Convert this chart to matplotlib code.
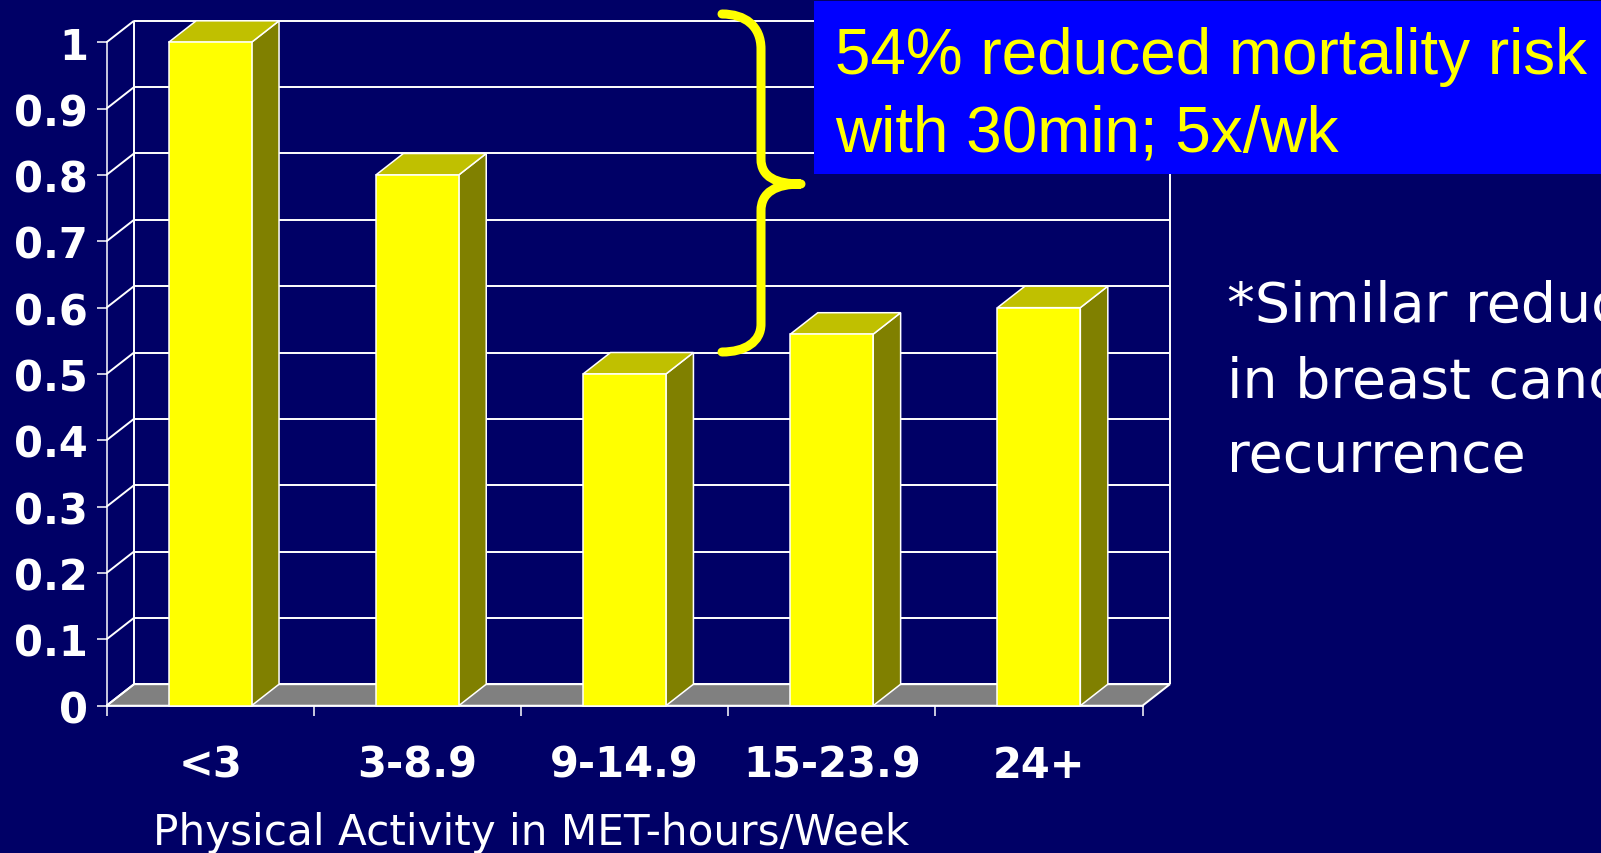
import matplotlib

matplotlib.use("Agg")

import matplotlib.pyplot as plt
import matplotlib.transforms as mtransforms
import numpy as np
from matplotlib.patches import PathPatch, Polygon, Rectangle
from matplotlib.path import Path


FIG_W, FIG_H = 1601, 854

NAVY = "#000066"
YELLOW = "#FFFF00"
YELLOW_TOP = "#C0C000"
YELLOW_SIDE = "#808000"
FLOOR = "#808080"
BOX_BLUE = "#0000FF"

categories = ["<3", "3-8.9", "9-14.9", "15-23.9", "24+"]
relative_risk = [1.0, 0.80, 0.50, 0.56, 0.60]
y_ticks = [0, 0.1, 0.2, 0.3, 0.4, 0.5, 0.6, 0.7, 0.8, 0.9, 1.0]
y_tick_labels = ["0", "0.1", "0.2", "0.3", "0.4", "0.5", "0.6", "0.7", "0.8", "0.9", "1"]

x_label = "Physical Activity in MET-hours/Week"
callout_lines = ["54% reduced mortality risk", "with 30min; 5x/wk"]
side_note_lines = ["*Similar reduction", "in breast cancer", "recurrence"]

BAR_WIDTH = 0.4
# depth of the fake 3d box, in data units (x: categories, y: value)
DEPTH_X = 0.1327
DEPTH_Y = 0.0324


def px(x, y):
    # pixel position (from top left) -> figure fraction
    return x / FIG_W, 1 - y / FIG_H


def draw_walls(ax, n):
    line_kw = dict(color="white", lw=1.4, zorder=1, clip_on=False, solid_capstyle="butt")

    floor = Polygon(
        [(0, 0), (n, 0), (n + DEPTH_X, DEPTH_Y), (DEPTH_X, DEPTH_Y)],
        closed=True, facecolor=FLOOR, edgecolor="white", lw=1.4, zorder=1, clip_on=False,
    )
    ax.add_patch(floor)

    for t in y_ticks:
        # back wall gridline and the diagonal on the left wall
        ax.plot([DEPTH_X, n + DEPTH_X], [t + DEPTH_Y, t + DEPTH_Y], **line_kw)
        ax.plot([0, DEPTH_X], [t, t + DEPTH_Y], **line_kw)

    top = y_ticks[-1] + DEPTH_Y
    ax.plot([DEPTH_X, DEPTH_X], [DEPTH_Y, top], **line_kw)
    ax.plot([n + DEPTH_X, n + DEPTH_X], [DEPTH_Y, top], **line_kw)


def draw_bars(ax, values):
    edge_kw = dict(edgecolor="white", lw=1.1, zorder=3, clip_on=False)
    for i, v in enumerate(values):
        left = i + 0.5 - BAR_WIDTH / 2
        right = left + BAR_WIDTH

        side = Polygon(
            [(right, 0), (right + DEPTH_X, DEPTH_Y), (right + DEPTH_X, v + DEPTH_Y), (right, v)],
            closed=True, facecolor=YELLOW_SIDE, **edge_kw,
        )
        top = Polygon(
            [(left, v), (right, v), (right + DEPTH_X, v + DEPTH_Y), (left + DEPTH_X, v + DEPTH_Y)],
            closed=True, facecolor=YELLOW_TOP, **edge_kw,
        )
        front = Rectangle((left, 0), BAR_WIDTH, v, facecolor=YELLOW, **edge_kw)

        ax.add_patch(side)
        ax.add_patch(top)
        ax.add_patch(front)


def draw_brace(fig):
    # curly brace, in pixel coordinates measured from the top left
    verts = [
        (722, 15),
        (745, 15), (761, 27), (761, 50),
        (761, 160),
        (761, 178), (776, 185), (801, 185),
        (776, 185), (761, 193), (761, 212),
        (761, 325),
        (761, 343), (745, 353), (722, 353),
    ]
    codes = [
        Path.MOVETO,
        Path.CURVE4, Path.CURVE4, Path.CURVE4,
        Path.LINETO,
        Path.CURVE4, Path.CURVE4, Path.CURVE4,
        Path.CURVE4, Path.CURVE4, Path.CURVE4,
        Path.LINETO,
        Path.CURVE4, Path.CURVE4, Path.CURVE4,
    ]
    to_fig = mtransforms.Affine2D().scale(1 / FIG_W, -1 / FIG_H).translate(0, 1) + fig.transFigure
    brace = PathPatch(
        Path(verts, codes), transform=to_fig, facecolor="none", edgecolor=YELLOW,
        lw=6.5, capstyle="round", joinstyle="round", zorder=5,
    )
    fig.patches.append(brace)


def main():
    fig = plt.figure(figsize=(FIG_W / 100, FIG_H / 100), dpi=100, facecolor=NAVY)

    left, right, top, bottom = 106.5, 1142.5, 43.3, 706.7
    ax = fig.add_axes([left / FIG_W, 1 - bottom / FIG_H, (right - left) / FIG_W, (bottom - top) / FIG_H])
    ax.set_facecolor("none")

    n = len(categories)
    ax.set_xlim(0, n)
    ax.set_ylim(0, 1)

    draw_walls(ax, n)
    draw_bars(ax, relative_risk)

    for name in ["top", "right"]:
        ax.spines[name].set_visible(False)
    for name in ["left", "bottom"]:
        ax.spines[name].set_color("white")
        ax.spines[name].set_linewidth(1.1)
        ax.spines[name].set_zorder(2.5)

    ax.set_yticks(y_ticks)
    ax.set_yticklabels(y_tick_labels)
    ax.tick_params(axis="y", direction="out", length=7.2, width=1.1, color="white", pad=6,
                   labelcolor="white", labelsize=30)

    # ticks on the category boundaries, labels in the middle
    ax.set_xticks(np.arange(n + 1))
    ax.set_xticklabels([])
    ax.set_xticks(np.arange(n) + 0.5, minor=True)
    ax.set_xticklabels(categories, minor=True)
    ax.tick_params(axis="x", which="major", direction="out", length=7.2, width=1.1, color="white")
    ax.tick_params(axis="x", which="minor", length=0, pad=27.5, labelcolor="white", labelsize=30)

    for lbl in ax.get_yticklabels() + ax.get_xticklabels(minor=True):
        lbl.set_fontweight("bold")
        lbl.set_family("DejaVu Sans")

    x, y = px(531, 845)
    fig.text(x, y, x_label, color="white", fontsize=30.3, ha="center", va="baseline",
             family="DejaVu Sans")

    # blue callout box with the yellow note
    bx0, by0 = px(814, 175)
    bx1, by1 = px(FIG_W, 2)
    fig.patches.append(Rectangle((bx0, by0), bx1 - bx0, by1 - by0, transform=fig.transFigure,
                                 facecolor=BOX_BLUE, edgecolor="none", zorder=4))
    for line, base in zip(callout_lines, [74, 151.7]):
        x, y = px(835, base)
        fig.text(x, y, line, color=YELLOW, fontsize=46, ha="left", va="baseline",
                 family=["Liberation Sans", "DejaVu Sans"], zorder=6)

    draw_brace(fig)

    for line, base in zip(side_note_lines, [321.7, 398, 471.7]):
        x, y = px(1227, base)
        fig.text(x, y, line, color="white", fontsize=40, ha="left", va="baseline",
                 family="DejaVu Sans")

    fig.savefig("out.png", dpi=100, facecolor=NAVY)
    plt.close(fig)


if __name__ == "__main__":
    main()
